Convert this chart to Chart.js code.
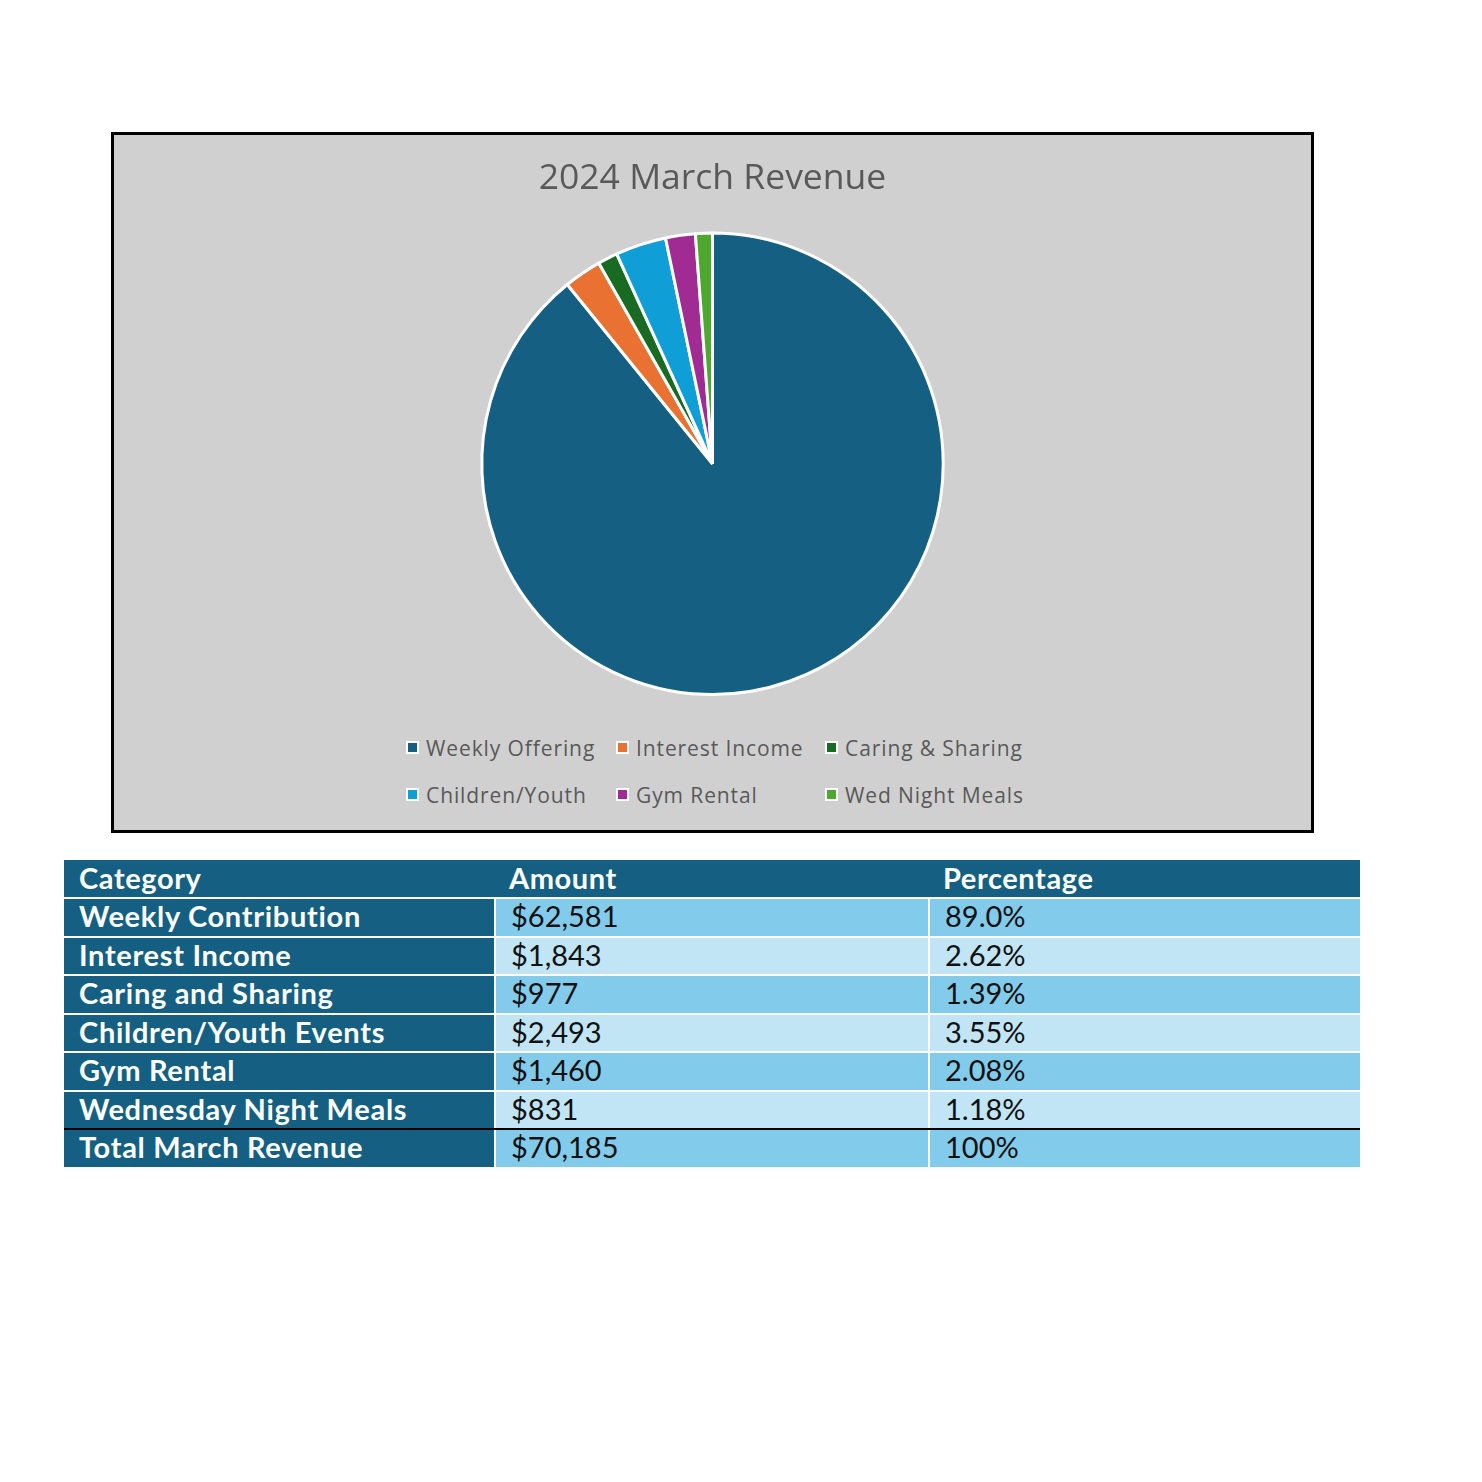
<!DOCTYPE html>
<html>
<head>
<meta charset="utf-8">
<script src="https://cdn.jsdelivr.net/npm/chart.js@4"></script>
<style>
  body { margin: 0; background: #fff; width: 1482px; height: 1482px; position: relative; font-family: "Open Sans", sans-serif; }
  #chartBox { position: absolute; left: 111px; top: 132px; width: 1203px; height: 701px; box-sizing: border-box; border: 3px solid #000; background: #d0d0d0; }
  #pie { position: absolute; left: 0; top: 0; }
  #legend { position: absolute; left: 292px; top: 589px; display: grid; grid-template-columns: 210px 209px 209px; grid-auto-rows: 47px; }
  .item { display: flex; align-items: center; color: #595959; font-size: 21px; letter-spacing: 0.9px; white-space: nowrap; }
  .swatch { width: 9px; height: 9px; border: 2px solid #fff; margin-right: 7px; }
  #table { position: absolute; left: 64px; top: 860px; width: 1296px; font-family: Lato, sans-serif; font-size: 29px; }
  .row { display: flex; height: 36.5px; }
  .row.body { border-top: 2px solid #fff; }
  .row.total { border-top: 2px solid #000; }
  .row.head { height: 37px; background: #156082; color: #fff; font-weight: bold; letter-spacing: 0.6px; }
  .cell { box-sizing: border-box; padding-left: 15px; padding-bottom: 3px; display: flex; align-items: center; }
  .c1 { width: 430px; }
  .c2 { width: 434px; }
  .c3 { width: 432px; }
  .body .c1, .total .c1 { background: #156082; color: #fff; font-weight: bold; letter-spacing: 0.7px; }
  .body .c2, .body .c3, .total .c2, .total .c3 { border-left: 2px solid #fff; color: #111; padding-left: 15px; }
</style>
</head>
<body>
<div id="chartBox">
  <canvas id="pie" width="1197" height="585"></canvas>
  <div id="legend"></div>
</div>
<div id="table"></div>
<script>
const legendNames = ["Weekly Offering", "Interest Income", "Caring & Sharing", "Children/Youth", "Gym Rental", "Wed Night Meals"];
const categories = ["Weekly Contribution", "Interest Income", "Caring and Sharing", "Children/Youth Events", "Gym Rental", "Wednesday Night Meals"];
const amounts = [62581, 1843, 977, 2493, 1460, 831];
const percentLabels = ["89.0%", "2.62%", "1.39%", "3.55%", "2.08%", "1.18%"];
const sliceColors = ["#156082", "#e97132", "#196b24", "#0f9ed5", "#a02b93", "#4ea72e"];
const totalLabel = "Total March Revenue";
const totalAmount = 70185;
const totalPercent = "100%";
const headers = ["Category", "Amount", "Percentage"];
const rowColors = ["#83cbeb", "#c1e5f5"];

const chart = new Chart(document.getElementById("pie"), {
  type: "pie",
  data: {
    labels: legendNames,
    datasets: [{
      data: amounts,
      backgroundColor: sliceColors,
      borderColor: "#ffffff",
      borderWidth: 3,
      hoverOffset: 0
    }]
  },
  options: {
    responsive: false,
    animation: false,
    layout: { padding: { top: 0, bottom: 24 } },
    plugins: {
      title: {
        display: true,
        text: "2024 March Revenue",
        color: "#595959",
        font: { family: "Open Sans", size: 35.5, weight: "normal" },
        padding: { top: 23, bottom: 31 }
      },
      legend: { display: false },
      tooltip: { enabled: false }
    }
  }
});

// html legend, laid out in a 3 column grid like the original
const legendEl = document.getElementById("legend");
chart.data.labels.forEach((name, i) => {
  const item = document.createElement("div");
  item.className = "item";
  const sw = document.createElement("span");
  sw.className = "swatch";
  sw.style.background = chart.data.datasets[0].backgroundColor[i];
  item.appendChild(sw);
  item.appendChild(document.createTextNode(name));
  legendEl.appendChild(item);
});

const fmt = (v) => "$" + v.toLocaleString("en-US");

function addRow(cls, cells, bg) {
  const row = document.createElement("div");
  row.className = "row " + cls;
  cells.forEach((txt, j) => {
    const c = document.createElement("div");
    c.className = "cell c" + (j + 1);
    c.textContent = txt;
    if (bg && j > 0) c.style.background = bg;
    row.appendChild(c);
  });
  document.getElementById("table").appendChild(row);
}

addRow("head", headers);
categories.forEach((cat, i) => {
  addRow("body", [cat, fmt(amounts[i]), percentLabels[i]], rowColors[i % 2]);
});
addRow("total", [totalLabel, fmt(totalAmount), totalPercent], rowColors[0]);
</script>
</body>
</html>
